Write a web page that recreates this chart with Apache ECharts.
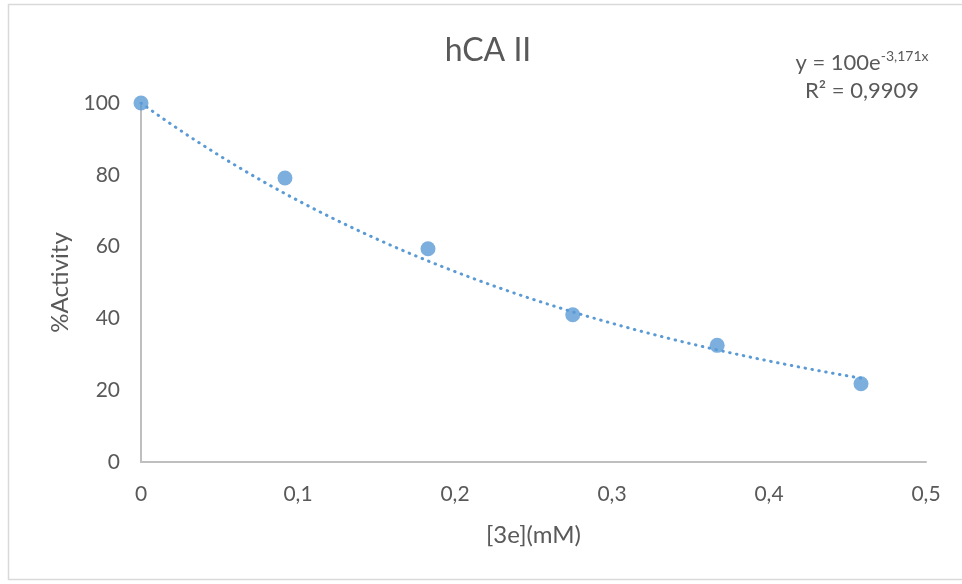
<!DOCTYPE html>
<html>
<head>
<meta charset="utf-8">
<script src="https://cdn.jsdelivr.net/npm/echarts@6/dist/echarts.min.js"></script>
<style>
  html, body { margin: 0; padding: 0; background: #fff; }
  #chart { width: 962px; height: 584px; }
</style>
</head>
<body>
<div id="chart"></div>
<script>
// Measured inhibitor concentration (mM) and remaining enzyme activity (%)
const concentrations = [0, 0.0917, 0.1828, 0.275, 0.367, 0.4586];
const activity = [100, 79.1, 59.4, 41, 32.5, 21.8];

// Exponential trendline y = A * e^(k x), coefficients as printed on the chart
const fitA = 100;
const fitK = -3.171;
const fitR2 = '0,9909';

const xTicks = [0, 0.1, 0.2, 0.3, 0.4, 0.5];
const yTicks = [0, 20, 40, 60, 80, 100];

const fmt = v => String(v).replace('.', ',');

// Trendline samples across the measured range
const trend = [];
const xEnd = concentrations[concentrations.length - 1];
const steps = 80;
for (let i = 0; i <= steps; i++) {
  const x = xEnd * i / steps;
  trend.push([x, fitA * Math.exp(fitK * x)]);
}

const chart = echarts.init(document.getElementById('chart'));
const FONT = 'Lato, "Open Sans", sans-serif';
const TXT = '#595959';

chart.setOption({
  animation: false,
  backgroundColor: '#fff',
  textStyle: { fontFamily: FONT },
  title: {
    text: 'hCA II',
    left: 483, top: 30, textAlign: 'center',
    textStyle: { fontFamily: FONT, fontSize: 32, fontWeight: 'normal', color: TXT }
  },
  graphic: [
    {
      type: 'rect',
      shape: { x: 8.5, y: 4.5, width: 980, height: 575 },
      style: { fill: 'none', stroke: '#d9d9d9', lineWidth: 1.5 },
      silent: true
    },
    {
      type: 'text',
      x: 862, y: 49,
      style: {
        text: '{b|y = ' + fitA + 'e}{s|' + fmt(fitK) + 'x}\n{b|R² = ' + fitR2 + '}',
        align: 'center',
        fill: TXT,
        rich: {
          b: { fontFamily: FONT, fontSize: 22, color: TXT, lineHeight: 28, align: 'center' },
          s: { fontFamily: FONT, fontSize: 14, color: TXT, verticalAlign: 'top', lineHeight: 28, padding: [0, 0, 16, 0] }
        }
      }
    }
  ],
  grid: { left: 141, right: 36, top: 103, bottom: 122 },
  xAxis: {
    type: 'value',
    min: 0, max: 0.5, interval: 0.1,
    name: '[3e](mM)',
    nameLocation: 'middle',
    nameGap: 61,
    nameTextStyle: { fontFamily: FONT, fontSize: 24, color: TXT },
    axisLine: { show: true, lineStyle: { color: '#bfbfbf', width: 2 } },
    axisTick: { show: false },
    splitLine: { show: false },
    axisLabel: {
      margin: 22, fontSize: 21, color: TXT, fontFamily: FONT,
      formatter: v => fmt(Math.round(v * 10) / 10)
    }
  },
  yAxis: {
    type: 'value',
    min: 0, max: 100, interval: 20,
    name: '%Activity',
    nameLocation: 'middle',
    nameGap: 67,
    nameTextStyle: { fontFamily: FONT, fontSize: 24, color: TXT },
    axisLine: { show: true, lineStyle: { color: '#bfbfbf', width: 2 } },
    axisTick: { show: false },
    splitLine: { show: false },
    axisLabel: { margin: 21, fontSize: 21, color: TXT, fontFamily: FONT }
  },
  series: [
    {
      type: 'line',
      data: trend,
      showSymbol: false,
      smooth: false,
      lineStyle: { color: '#5b9bd5', width: 3, type: [0.5, 6.5], cap: 'round' },
      z: 2
    },
    {
      type: 'scatter',
      data: concentrations.map((x, i) => [x, activity[i]]),
      symbol: 'circle',
      symbolSize: 15,
      itemStyle: { color: '#5b9bd5' },
      z: 3
    }
  ]
});
</script>
</body>
</html>
